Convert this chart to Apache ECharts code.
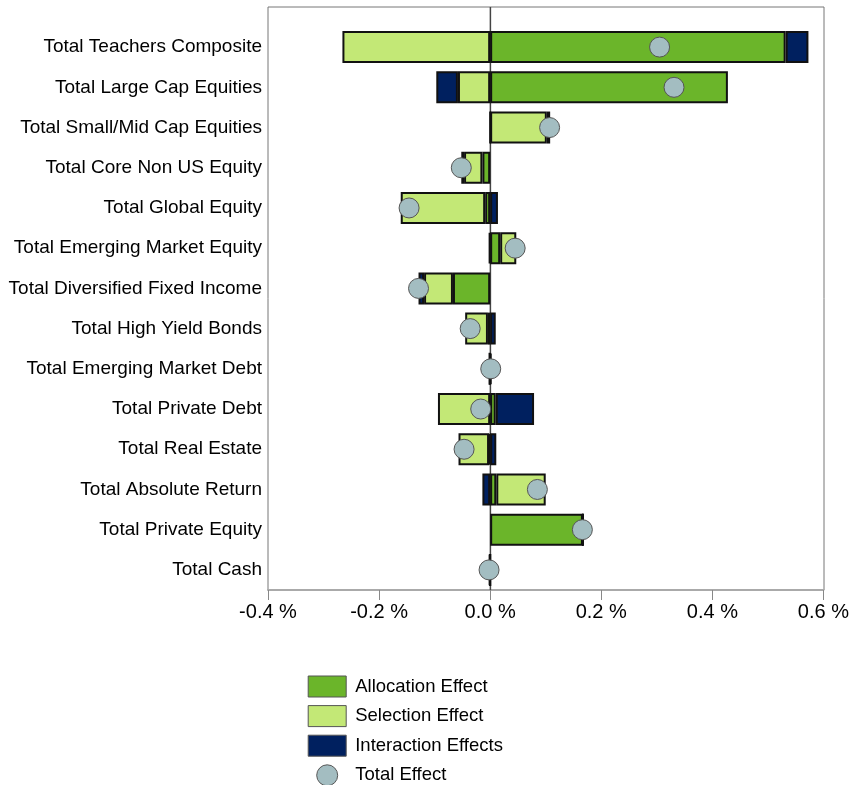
<!DOCTYPE html>
<html>
<head>
<meta charset="utf-8">
<script src="https://cdn.jsdelivr.net/npm/echarts@6/dist/echarts.min.js"></script>
<style>
html,body{margin:0;padding:0;background:#fff;}
#chart{width:852px;height:785px;}
</style>
</head>
<body>
<div id="chart"></div>
<script>
var categories = ['Total Teachers Composite','Total Large Cap Equities','Total Small/Mid Cap Equities','Total Core Non US Equity','Total Global Equity','Total Emerging Market Equity','Total Diversified Fixed Income','Total High Yield Bonds','Total Emerging Market Debt','Total Private Debt','Total Real Estate','Total Absolute Return','Total Private Equity','Total Cash'];
var allocation  = [0.532, 0.428, 0, -0.014, -0.009, 0.018, -0.067, -0.004, -0.001, 0.010, -0.002, 0.011, 0.167, 0];
var selection   = [-0.266, -0.058, 0.102, -0.033, -0.152, 0.029, -0.052, -0.041, 0, -0.094, -0.055, 0.089, 0, 0];
var interaction = [0.041, -0.039, 0.006, -0.005, 0.014, -0.002, -0.010, 0.010, 0.002, 0.069, 0.011, -0.014, 0, -0.002];
var totalEffect = [0.305, 0.331, 0.107, -0.052, -0.146, 0.045, -0.129, -0.036, 0.001, -0.017, -0.047, 0.085, 0.166, -0.002];
var xTicks = {min: -0.4, max: 0.6, interval: 0.2};
var seriesNames = ['Allocation Effect','Selection Effect','Interaction Effects','Total Effect'];

var FONT = '"Liberation Sans", Arial, sans-serif';
var chart = echarts.init(document.getElementById('chart'), null, {renderer: 'canvas'});

function barSeries(name, data, color) {
  return {
    name: name, type: 'bar', stack: 'effects', xAxisIndex: 0, yAxisIndex: 0,
    barWidth: 32, z: 3,
    itemStyle: {color: color, borderColor: '#111', borderWidth: 2},
    data: data
  };
}

var option = {
  animation: false,
  textStyle: {fontFamily: FONT},
  grid: [
    {left: 268, right: 28, top: 27, bottom: 195, containLabel: false},
    {left: 268, right: 28, top: 7, bottom: 195, show: true, borderColor: '#777', borderWidth: 1, backgroundColor: 'transparent'}
  ],
  xAxis: [
    {
      type: 'value', gridIndex: 0, min: xTicks.min, max: xTicks.max, interval: xTicks.interval,
      axisLine: {show: true, onZero: false, lineStyle: {color: '#aaa', width: 2}},
      axisTick: {show: true, length: 10, lineStyle: {color: '#888', width: 1}},
      splitLine: {show: false},
      axisLabel: {
        margin: 12, fontSize: 20, color: '#000', fontFamily: FONT,
        formatter: function (v) { return (Math.round(v * 10) / 10).toFixed(1) + ' %'; }
      }
    },
    {type: 'value', gridIndex: 1, min: xTicks.min, max: xTicks.max, show: false}
  ],
  yAxis: [
    {
      type: 'category', gridIndex: 0, data: categories, inverse: true,
      axisLine: {show: false}, axisTick: {show: false}, splitLine: {show: false},
      axisLabel: {margin: 6, fontSize: 19, color: '#000', fontFamily: FONT}
    },
    {type: 'value', gridIndex: 1, min: 0, max: 1, show: false}
  ],
  legend: {
    orient: 'vertical', left: 307.7, top: 675.5, padding: 0, height: 120,
    itemWidth: 38, itemHeight: 21, itemGap: 7.6,
    textStyle: {fontSize: 18.5, lineHeight: 20, color: '#000', fontFamily: FONT, padding: [0,0,0,4]},
    itemStyle: {borderColor: '#555', borderWidth: 1},
    data: [
      {name: seriesNames[0], icon: 'rect'},
      {name: seriesNames[1], icon: 'rect'},
      {name: seriesNames[2], icon: 'rect'},
      {name: seriesNames[3], icon: 'circle'}
    ]
  },
  series: [
    {
      type: 'line', xAxisIndex: 1, yAxisIndex: 1, z: 1, silent: true,
      symbol: 'none', lineStyle: {color: '#444', width: 1.5},
      data: [[0, 0], [0, 1]]
    },
    barSeries(seriesNames[0], allocation, '#6BB52A'),
    barSeries(seriesNames[1], selection, '#C3E876'),
    barSeries(seriesNames[2], interaction, '#00205F'),
    {
      name: seriesNames[3], type: 'scatter', xAxisIndex: 0, yAxisIndex: 0, z: 5,
      symbol: 'circle', symbolSize: 20,
      itemStyle: {color: '#A3BDC1', borderColor: '#555', borderWidth: 1, opacity: 1},
      data: totalEffect.map(function (v, i) { return [v, categories[i]]; })
    }
  ]
};
chart.setOption(option);
</script>
</body>
</html>
